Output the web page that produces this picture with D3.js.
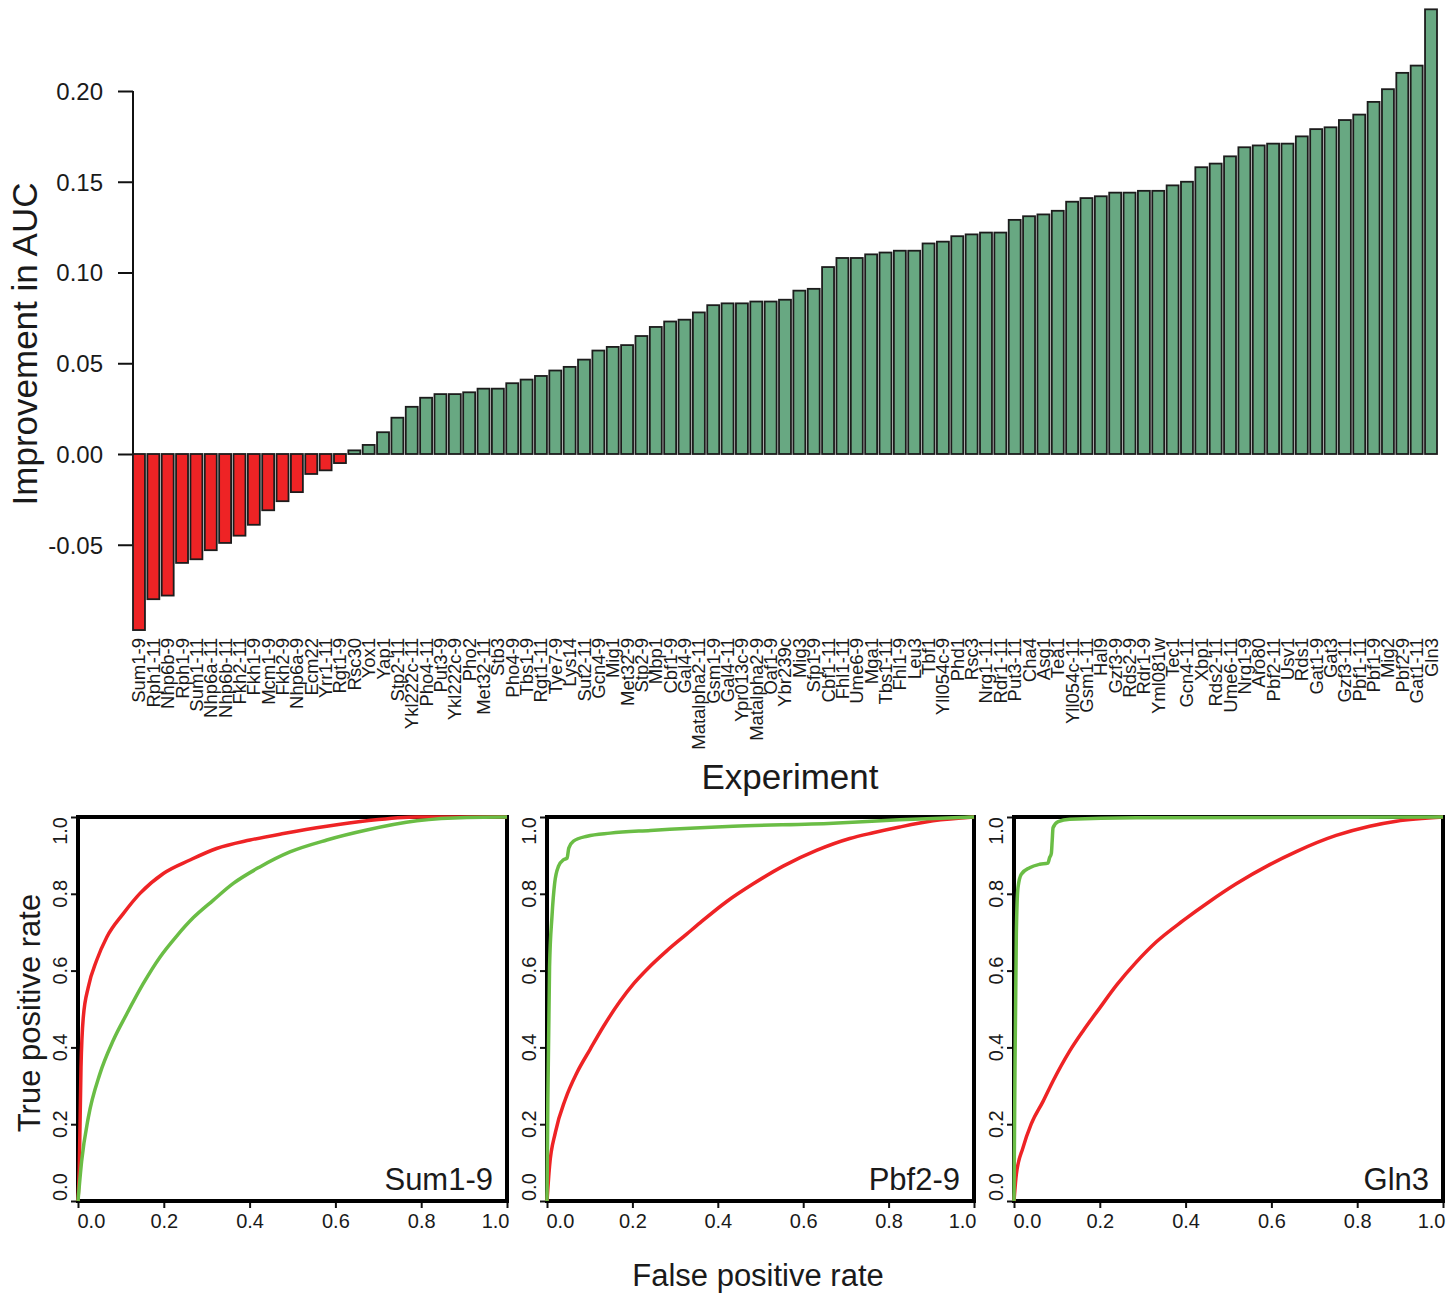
<!DOCTYPE html>
<html>
<head>
<meta charset="utf-8">
<script src="https://cdn.jsdelivr.net/npm/d3@7"></script>
<style>
  body { margin: 0; background: #fff; }
  text { font-family: "Liberation Sans", Arial, sans-serif; fill: #1a1a1a; }
</style>
</head>
<body>
<svg id="chart" width="1453" height="1295"></svg>
<script>
// experiment names, sorted by improvement
const experiments = [
  "Sum1-9", "Rph1-11", "Nhp6b-9", "Rph1-9", "Sum1-11", "Nhp6a-11", "Nhp6b-11", "Fkh2-11", "Fkh1-9", "Mcm1-9",
  "Fkh2-9", "Nhp6a-9", "Ecm22", "Yrr1-11", "Rgt1-9", "Rsc30", "Yox1", "Yap1", "Stp2-11", "Ykl222c-11",
  "Pho4-11", "Put3-9", "Ykl222c-9", "Pho2", "Met32-11", "Stb3", "Pho4-9", "Tbs1-9", "Rgt1-11", "Tye7-9",
  "Lys14", "Sut2-11", "Gcn4-9", "Mig1", "Met32-9", "Stp2-9", "Mbp1", "Cbf1-9", "Gal4-9", "Matalpha2-11",
  "Gsm1-9", "Gal4-11", "Ypr013c-9", "Matalpha2-9", "Oaf1-9", "Ybr239c", "Mig3", "Sfp1-9", "Cbf1-11", "Fhl1-11",
  "Ume6-9", "Mga1", "Tbs1-11", "Fhl1-9", "Leu3", "Tbf1", "Yll054c-9", "Phd1", "Rsc3", "Nrg1-11",
  "Rdr1-11", "Put3-11", "Cha4", "Asg1", "Tea1", "Yll054c-11", "Gsm1-11", "Hal9", "Gzf3-9", "Rds2-9",
  "Rdr1-9", "Yml081w", "Tec1", "Gcn4-11", "Xbp1", "Rds2-11", "Ume6-11", "Nrg1-9", "Aro80", "Pbf2-11",
  "Usv1", "Rds1", "Gat1-9", "Gat3", "Gzf3-11", "Pbf1-11", "Pbf1-9", "Mig2", "Pbf2-9", "Gat1-11", "Gln3"
];

const improvement = [
  -0.097, -0.080, -0.078, -0.060, -0.058, -0.053, -0.049, -0.045, -0.039, -0.031,
  -0.026, -0.021, -0.011, -0.009, -0.005, 0.002, 0.005, 0.012, 0.020, 0.026,
  0.031, 0.033, 0.033, 0.034, 0.036, 0.036, 0.039, 0.041, 0.043, 0.046,
  0.048, 0.052, 0.057, 0.059, 0.060, 0.065, 0.070, 0.073, 0.074, 0.078,
  0.082, 0.083, 0.083, 0.084, 0.084, 0.085, 0.090, 0.091, 0.103, 0.108,
  0.108, 0.110, 0.111, 0.112, 0.112, 0.116, 0.117, 0.120, 0.121, 0.122,
  0.122, 0.129, 0.131, 0.132, 0.134, 0.139, 0.141, 0.142, 0.144, 0.144,
  0.145, 0.145, 0.148, 0.150, 0.158, 0.160, 0.164, 0.169, 0.170, 0.171,
  0.171, 0.175, 0.179, 0.180, 0.184, 0.187, 0.194, 0.201, 0.210, 0.214, 0.245
];

const aucTicks = [-0.05, 0.00, 0.05, 0.10, 0.15, 0.20];
const rateTicks = [0, 0.2, 0.4, 0.6, 0.8, 1.0];

// ROC curves [false positive rate, true positive rate]
const sum1Red = [[0, 0], [0.003, 0.087], [0.007, 0.348], [0.0124, 0.479], [0.024, 0.557], [0.0435, 0.627],
  [0.067, 0.687], [0.106, 0.749], [0.1445, 0.801], [0.199, 0.853], [0.261, 0.888], [0.323, 0.918],
  [0.401, 0.940], [0.479, 0.957], [0.580, 0.976], [0.673, 0.990], [0.790, 1.0], [1, 1]];
const sum1Green = [[0, 0], [0.0085, 0.104], [0.024, 0.217], [0.051, 0.331], [0.082, 0.418], [0.1135, 0.487],
  [0.152, 0.566], [0.191, 0.635], [0.230, 0.690], [0.269, 0.738], [0.315, 0.783], [0.362, 0.827],
  [0.424, 0.870], [0.494, 0.909], [0.580, 0.940], [0.673, 0.966], [0.790, 0.990], [0.906, 0.999], [1, 1]];
const pbf2Red = [[0, 0], [0.006, 0.091], [0.0195, 0.178], [0.043, 0.265], [0.070, 0.334], [0.101, 0.395],
  [0.1325, 0.455], [0.171, 0.520], [0.203, 0.566], [0.234, 0.603], [0.281, 0.652], [0.327, 0.695],
  [0.359, 0.725], [0.421, 0.780], [0.483, 0.826], [0.553, 0.872], [0.631, 0.913], [0.709, 0.944],
  [0.764, 0.959], [0.826, 0.974], [0.904, 0.990], [1, 1]];
const pbf2Green = [[0, 0], [0.002, 0.265], [0.006, 0.611], [0.0117, 0.742], [0.018, 0.828], [0.027, 0.872],
  [0.039, 0.889], [0.047, 0.893], [0.051, 0.919], [0.062, 0.937], [0.094, 0.950], [0.148, 0.958],
  [0.242, 0.965], [0.436, 0.976], [0.670, 0.984], [0.826, 0.993], [1, 1]];
const gln3Red = [[0, 0], [0.0054, 0.069], [0.021, 0.139], [0.040, 0.200], [0.068, 0.260], [0.091, 0.3125],
  [0.130, 0.391], [0.161, 0.443], [0.200, 0.503], [0.239, 0.562], [0.285, 0.622], [0.332, 0.675],
  [0.394, 0.730], [0.456, 0.780], [0.518, 0.826], [0.596, 0.876], [0.658, 0.910], [0.751, 0.952],
  [0.829, 0.976], [0.891, 0.989], [1, 1]];
const gln3Green = [[0, 0], [0.0023, 0.347], [0.0054, 0.694], [0.0093, 0.816], [0.017, 0.851], [0.0365, 0.868],
  [0.060, 0.877], [0.079, 0.880], [0.083, 0.894], [0.087, 0.905], [0.089, 0.9375], [0.091, 0.972],
  [0.103, 0.988], [0.130, 0.994], [0.285, 0.998], [1, 1]];

const RED = "#ee2325";
const GREEN = "#68a882";
const LINE_GREEN = "#6abd45";

const svg = d3.select("#chart");

// ---------- top bar chart ----------
const x = d3.scaleBand()
  .domain(experiments)
  .range([133, 1437])
  .paddingInner(0.2 / 1.2)
  .paddingOuter(0);

const y = d3.scaleLinear()
  .domain([-0.1, 0.25])
  .range([635.5, 0.25]);

const fmt = d3.format(".2f");

const yAxis = svg.append("g")
  .attr("transform", "translate(133,0)")
  .call(d3.axisLeft(y).tickValues(aucTicks).tickSize(15).tickSizeOuter(0)
    .tickFormat(d => fmt(d).replace("\u2212", "-")));
yAxis.select(".domain").remove();
yAxis.selectAll(".tick line").attr("stroke", "#111").attr("stroke-width", 2);
yAxis.selectAll(".tick text")
  .attr("x", -30)
  .attr("dy", "0.35em")
  .style("font-size", "24px")
  .style("font-family", "'Liberation Sans', Arial, sans-serif")
  .attr("fill", "#1a1a1a");

svg.append("line")
  .attr("x1", 133).attr("x2", 133)
  .attr("y1", y(aucTicks[0])).attr("y2", y(aucTicks[aucTicks.length - 1]))
  .attr("stroke", "#111").attr("stroke-width", 2);

svg.append("g").selectAll("rect")
  .data(experiments)
  .join("rect")
  .attr("x", d => x(d))
  .attr("width", x.bandwidth())
  .attr("y", (d, i) => Math.min(y(improvement[i]), y(0)))
  .attr("height", (d, i) => Math.abs(y(improvement[i]) - y(0)))
  .attr("fill", (d, i) => improvement[i] < 0 ? RED : GREEN)
  .attr("stroke", "#1c1c1c")
  .attr("stroke-width", 1.8);

svg.append("g").selectAll("text")
  .data(experiments)
  .join("text")
  .attr("transform", d => `translate(${x(d) + x.bandwidth() / 2},638) rotate(-90)`)
  .attr("dy", "0.35em")
  .attr("text-anchor", "end")
  .style("font-size", "18.5px")
  .text(d => d);

svg.append("text")
  .attr("transform", "translate(37,344) rotate(-90)")
  .attr("text-anchor", "middle")
  .style("font-size", "35px")
  .text("Improvement in AUC");

svg.append("text")
  .attr("x", 790).attr("y", 789)
  .attr("text-anchor", "middle")
  .style("font-size", "35px")
  .text("Experiment");

// ---------- ROC panels ----------
const panels = [
  { name: "Sum1-9", left: 78, right: 507, red: sum1Red, green: sum1Green },
  { name: "Pbf2-9", left: 547, right: 974, red: pbf2Red, green: pbf2Green },
  { name: "Gln3", left: 1014, right: 1443, red: gln3Red, green: gln3Green }
];
const boxTop = 817, boxBottom = 1201;

panels.forEach(p => {
  const px = d3.scaleLinear().domain([0, 1]).range([p.left, p.right]);
  const py = d3.scaleLinear().domain([0, 1]).range([boxBottom, boxTop]);
  const g = svg.append("g");

  // ticks
  const xa = g.append("g")
    .attr("transform", `translate(0,${boxBottom})`)
    .call(d3.axisBottom(px).tickValues(rateTicks).tickSize(7).tickSizeOuter(0).tickFormat(d3.format(".1f")));
  xa.select(".domain").remove();
  xa.selectAll(".tick line").attr("stroke", "#111").attr("stroke-width", 2);
  xa.selectAll(".tick text")
    .attr("y", 27).attr("dy", 0)
    .attr("text-anchor", (d, i) => i === 0 ? "start" : (i === rateTicks.length - 1 ? "end" : "middle"))
    .attr("dx", (d, i) => i === 0 ? -1 : (i === rateTicks.length - 1 ? 2 : 0))
    .style("font-size", "20px")
    .style("font-family", "'Liberation Sans', Arial, sans-serif")
    .attr("fill", "#1a1a1a");

  const ya = g.append("g")
    .attr("transform", `translate(${p.left},0)`)
    .call(d3.axisLeft(py).tickValues(rateTicks).tickSize(7).tickSizeOuter(0).tickFormat(() => ""));
  ya.select(".domain").remove();
  ya.selectAll(".tick line").attr("stroke", "#111").attr("stroke-width", 2);

  g.selectAll(".ylab")
    .data(rateTicks)
    .join("text")
    .attr("class", "ylab")
    .attr("transform", d => `translate(${p.left - 11},${py(d)}) rotate(-90)`)
    .attr("text-anchor", (d, i) => i === 0 ? "start" : (i === rateTicks.length - 1 ? "end" : "middle"))
    .style("font-size", "20px")
    .text(d3.format(".1f"));

  // box
  g.append("rect")
    .attr("x", p.left).attr("y", boxTop)
    .attr("width", p.right - p.left).attr("height", boxBottom - boxTop)
    .attr("fill", "none").attr("stroke", "#000").attr("stroke-width", 4);

  const line = d3.line()
    .x(d => px(d[0]))
    .y(d => py(d[1]))
    .curve(d3.curveMonotoneX);

  g.append("path").datum(p.red)
    .attr("d", line).attr("fill", "none")
    .attr("stroke", RED).attr("stroke-width", 3.5);
  g.append("path").datum(p.green)
    .attr("d", line).attr("fill", "none")
    .attr("stroke", LINE_GREEN).attr("stroke-width", 3.5);

  g.append("text")
    .attr("x", p.right - 14).attr("y", 1190)
    .attr("text-anchor", "end")
    .style("font-size", "31px")
    .text(p.name);
});

svg.append("text")
  .attr("transform", "translate(40,1013) rotate(-90)")
  .attr("text-anchor", "middle")
  .style("font-size", "31px")
  .text("True positive rate");

svg.append("text")
  .attr("x", 758).attr("y", 1286)
  .attr("text-anchor", "middle")
  .style("font-size", "31px")
  .text("False positive rate");
</script>
</body>
</html>
